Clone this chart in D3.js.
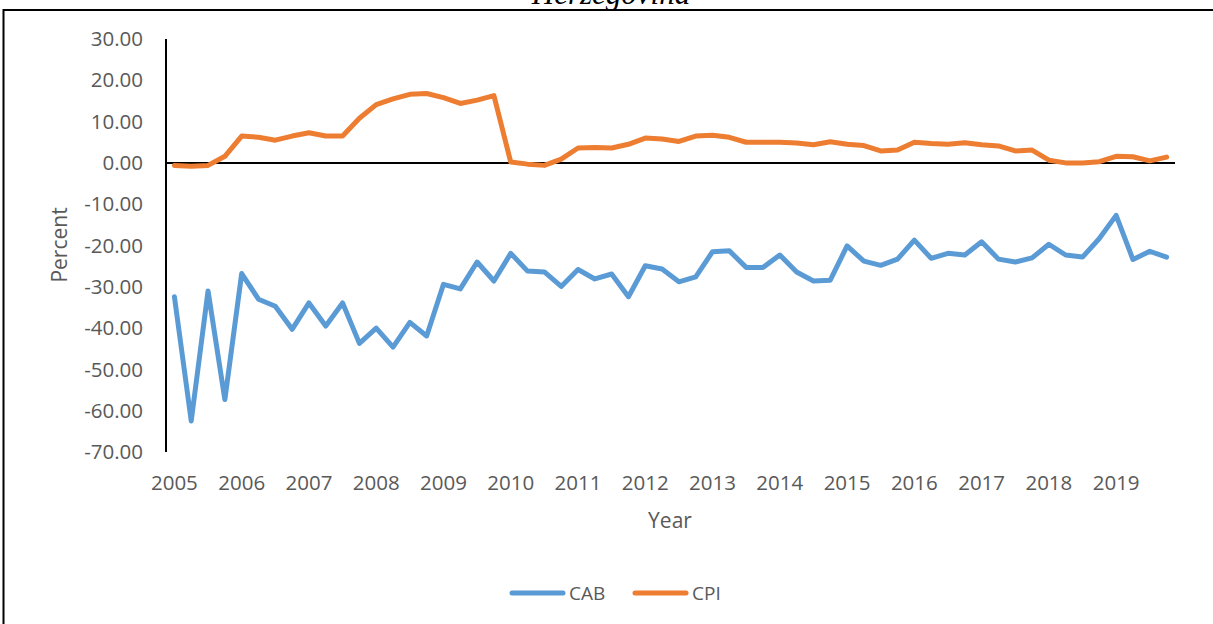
<!DOCTYPE html>
<html>
<head>
<meta charset="UTF-8">
<script src="https://d3js.org/d3.v7.min.js"></script>
<style>
  body { margin: 0; background: #fff; }
  text { font-family: "Open Sans", sans-serif; fill: #595959; }
</style>
</head>
<body>
<svg></svg>

<script>
// quarterly data 2005Q1 - 2019Q4
var years = ["2005","2006","2007","2008","2009","2010","2011","2012","2013","2014","2015","2016","2017","2018","2019"];
var quarters = ["Q1","Q2","Q3","Q4"];
var cab = [-32.4,-62.5,-31.0,-57.3, -26.8,-33.0,-34.7,-40.3, -33.9,-39.5,-33.9,-43.7,
           -40.0,-44.6,-38.6,-41.9, -29.4,-30.5,-24.0,-28.6, -21.9,-26.2,-26.4,-29.9,
           -25.8,-28.1,-26.9,-32.4, -24.9,-25.7,-28.8,-27.6, -21.5,-21.3,-25.3,-25.3,
           -22.3,-26.4,-28.6,-28.4, -20.1,-23.8,-24.8,-23.3, -18.7,-23.1,-21.9,-22.3,
           -19.1,-23.3,-24.0,-23.0, -19.7,-22.3,-22.8,-18.3, -12.7,-23.4,-21.4,-22.8];
var cpi = [-0.6,-0.8,-0.6,1.6, 6.5,6.2,5.5,6.5, 7.3,6.5,6.5,10.8,
           14.1,15.5,16.6,16.8, 15.8,14.4,15.2,16.3, 0.2,-0.3,-0.6,0.9,
           3.6,3.7,3.6,4.5, 6.0,5.8,5.2,6.5, 6.7,6.2,5.0,5.0,
           5.0,4.8,4.4,5.1, 4.5,4.2,2.9,3.1, 5.0,4.7,4.5,4.9,
           4.4,4.1,2.9,3.1, 0.65,0.0,0.0,0.3, 1.6,1.5,0.5,1.4];
var yTicks = [30,20,10,0,-10,-20,-30,-40,-50,-60,-70];

var width = 1213, height = 624;
var svg = d3.select("svg")
    .attr("width", width)
    .attr("height", height);

svg.append("rect").attr("width", width).attr("height", height).attr("fill", "#fff");

// categories: one per quarter
var cats = [];
years.forEach(function(y){ quarters.forEach(function(q){ cats.push(y + q); }); });

var x = d3.scaleBand().domain(cats).range([166, 1175]);
var y = d3.scaleLinear().domain([-70, 30]).range([452, 39]);

// outer frame + title (cut off at the top, as in the source)
svg.append("rect")
    .attr("x", 3.5).attr("y", 10)
    .attr("width", width + 10).attr("height", height + 10)
    .attr("fill", "none").attr("stroke", "#000").attr("stroke-width", 2);

svg.append("text")
    .attr("x", 611).attr("y", 4)
    .attr("text-anchor", "middle")
    .style("font-family", "'Liberation Serif', serif")
    .style("font-style", "italic")
    .style("font-size", "31px")
    .style("fill", "#000")
    .text("Herzegovina");

// y axis labels (hyphen minus like Excel)
var fmt = function(d){ return d3.format(".2f")(d).replace("\u2212", "-"); };
svg.append("g").selectAll("text")
    .data(yTicks)
    .enter()
    .append("text")
    .attr("x", 143)
    .attr("y", function(d){ return y(d); })
    .attr("dy", "0.35em")
    .attr("text-anchor", "end")
    .style("font-size", "20.5px")
    .text(fmt);

// x axis labels, first quarter of each year
svg.append("g").selectAll("text")
    .data(years)
    .enter()
    .append("text")
    .attr("x", function(d){ return x(d + "Q1") + x.bandwidth() / 2; })
    .attr("y", 483)
    .attr("dy", "0.35em")
    .attr("text-anchor", "middle")
    .style("font-size", "20.5px")
    .text(function(d){ return d; });

// axis lines
svg.append("line")
    .attr("x1", 166).attr("x2", 166)
    .attr("y1", y(30)).attr("y2", y(-70))
    .attr("stroke", "#000").attr("stroke-width", 2);
svg.append("line")
    .attr("x1", 166).attr("x2", 1175)
    .attr("y1", y(0)).attr("y2", y(0))
    .attr("stroke", "#000").attr("stroke-width", 2);

// lines
var line = d3.line()
    .x(function(d, i){ return x(cats[i]) + x.bandwidth() / 2; })
    .y(function(d){ return y(d); });

svg.append("path")
    .datum(cab)
    .attr("d", line)
    .attr("fill", "none")
    .attr("stroke", "#5B9BD5")
    .attr("stroke-width", 5)
    .attr("stroke-linejoin", "round")
    .attr("stroke-linecap", "round");

svg.append("path")
    .datum(cpi)
    .attr("d", line)
    .attr("fill", "none")
    .attr("stroke", "#ED7D31")
    .attr("stroke-width", 5)
    .attr("stroke-linejoin", "round")
    .attr("stroke-linecap", "round");

// axis titles
svg.append("text")
    .attr("transform", "translate(60,245) rotate(-90)")
    .attr("text-anchor", "middle")
    .attr("dy", "0.35em")
    .style("font-size", "21px")
    .text("Percent");

svg.append("text")
    .attr("x", 670).attr("y", 521)
    .attr("dy", "0.35em")
    .attr("text-anchor", "middle")
    .style("font-size", "21px")
    .text("Year");

// legend
var legend = [{name: "CAB", color: "#5B9BD5", x: 510}, {name: "CPI", color: "#ED7D31", x: 633}];
var lg = svg.append("g").selectAll("g")
    .data(legend)
    .enter()
    .append("g");
lg.append("line")
    .attr("x1", function(d){ return d.x + 2; })
    .attr("x2", function(d){ return d.x + 53; })
    .attr("y1", 593).attr("y2", 593)
    .attr("stroke", function(d){ return d.color; })
    .attr("stroke-width", 5)
    .attr("stroke-linecap", "round");
lg.append("text")
    .attr("x", function(d){ return d.x + 59; })
    .attr("y", 593)
    .attr("dy", "0.35em")
    .style("font-size", "19px")
    .text(function(d){ return d.name; });
</script>
</body>
</html>
